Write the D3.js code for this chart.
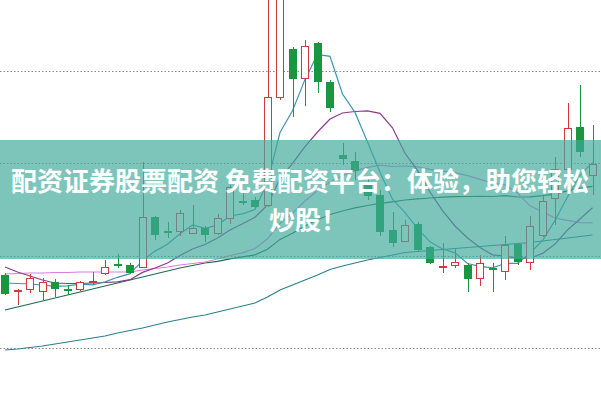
<!DOCTYPE html>
<html><head><meta charset="utf-8">
<script src="https://cdn.jsdelivr.net/npm/d3@7"></script>
<style>html,body{margin:0;padding:0;background:#fff;overflow:hidden}</style>
</head><body><svg id="c" width="601" height="400"></svg>
<script>
// ---- data ----
const dates = ["02-01","02-02","02-03","02-06","02-07","02-08","02-09","02-10","02-13","02-14","02-15","02-16","02-17","02-20","02-21","02-22","02-23","02-24","02-27","02-28",
"03-01","03-02","03-03","03-06","03-07","03-08","03-09","03-10","03-13","03-14","03-15","03-16","03-17","03-20","03-21","03-22","03-23","03-24","03-27","03-28","03-29","03-30","03-31",
"04-03","04-04","04-06","04-07","04-10"];
const open  = [5.25,5.085,5.11,5.09,5.18,5.105,5.11,5.175,5.27,5.355,5.35,5.33,5.83,5.685,5.69,5.67,5.72,5.67,5.82,5.985,6.00,5.95,7.03,7.51,7.22,7.57,7.18,6.45,6.39,6.17,6.05,5.70,5.59,5.76,5.53,5.325,5.35,5.35,5.22,5.315,5.29,5.56,5.38,5.65,6.02,6.31,6.73,6.25];
const high  = [5.27,5.11,5.26,5.22,5.21,5.15,5.19,5.28,5.40,5.46,5.37,6.38,5.84,5.78,5.90,5.95,5.74,5.86,6.15,6.07,6.03,8.20,8.40,7.53,7.60,7.58,7.20,6.57,6.48,6.22,6.10,5.88,5.80,5.78,5.54,5.57,5.52,5.37,5.45,5.37,5.64,5.57,5.84,6.05,6.43,6.97,7.15,6.75];
const low   = [5.05,4.95,5.07,5.00,5.03,5.05,5.09,5.15,5.25,5.32,5.26,5.32,5.60,5.62,5.64,5.66,5.58,5.65,5.76,5.95,5.92,5.93,7.00,6.83,6.94,7.07,6.88,6.35,6.20,6.00,5.64,5.53,5.58,5.49,5.36,5.27,5.32,5.08,5.14,5.08,5.20,5.35,5.30,5.63,5.75,6.20,6.43,6.05];
const close = [5.07,5.095,5.22,5.18,5.12,5.095,5.18,5.185,5.33,5.345,5.28,5.83,5.66,5.675,5.87,5.72,5.66,5.82,6.13,5.975,5.94,7.03,8.30,7.22,7.54,7.19,6.93,6.42,6.30,6.05,5.69,5.58,5.75,5.51,5.38,5.335,5.38,5.22,5.37,5.305,5.55,5.39,5.74,5.99,6.31,6.72,6.49,6.36];

const ma5  = [5.17,5.165,5.16,5.15,5.137,5.142,5.159,5.152,5.182,5.227,5.264,5.394,5.489,5.558,5.663,5.751,5.717,5.749,5.84,5.861,5.905,6.179,6.675,6.893,7.206,7.456,7.436,7.06,6.876,6.58,6.278,6.008,5.874,5.716,5.582,5.511,5.471,5.365,5.337,5.322,5.365,5.367,5.47,5.595,5.796,6.03,6.25,6.374];
const ma10 = [5.33,5.28,5.24,5.20,5.17,5.165,5.165,5.17,5.175,5.182,5.203,5.276,5.32,5.37,5.445,5.51,5.555,5.62,5.70,5.762,5.828,5.95,6.212,6.366,6.533,6.68,6.81,6.87,6.885,6.892,6.867,6.722,6.467,6.296,6.08,5.894,5.74,5.62,5.526,5.452,5.438,5.419,5.418,5.466,5.559,5.70,5.81,5.922];
const ma20 = [5.26,5.265,5.27,5.27,5.275,5.275,5.28,5.28,5.28,5.28,5.28,5.30,5.315,5.33,5.35,5.365,5.38,5.41,5.445,5.472,5.515,5.612,5.766,5.868,5.99,6.094,6.181,6.243,6.292,6.327,6.348,6.335,6.34,6.331,6.307,6.288,6.274,6.244,6.206,6.172,6.153,6.07,5.942,5.881,5.82,5.796,5.774,5.771];
const ma30 = [4.90,4.93,4.96,4.99,5.02,5.05,5.08,5.11,5.14,5.17,5.20,5.23,5.26,5.29,5.32,5.345,5.37,5.386,5.411,5.432,5.452,5.508,5.606,5.668,5.741,5.802,5.855,5.89,5.922,5.945,5.966,5.982,6.00,6.011,6.02,6.028,6.034,6.035,6.037,6.035,6.044,6.03,6.032,6.043,6.058,6.091,6.119,6.137];
const ma60 = [4.50,4.51,4.525,4.54,4.56,4.58,4.60,4.62,4.64,4.67,4.695,4.72,4.75,4.78,4.805,4.83,4.85,4.88,4.91,4.94,4.97,5.03,5.10,5.15,5.20,5.25,5.305,5.34,5.37,5.40,5.425,5.45,5.475,5.485,5.495,5.505,5.515,5.525,5.535,5.545,5.555,5.565,5.575,5.59,5.605,5.62,5.635,5.65];

const gridPrices = [7.29, 6.367, 5.443, 4.52];
const bannerLines = ["配资证券股票配资 免费配资平台：体验，助您轻松", "炒股！"];

// ---- layout ----
const W = 601, H = 400;
const svg = d3.select("#c");
const x = d3.scaleBand().domain(dates).range([-1.25, 598.75]).paddingInner(0.36).paddingOuter(0.18);
const y = d3.scaleLinear().domain([4, 8]).range([400, 0]);
const cx = d => x(d) + x.bandwidth() / 2;

const RED = "#d2393f", GREEN = "#1a9641";

// grid
svg.append("g").selectAll("line").data(gridPrices).join("line")
  .attr("x1", 0).attr("x2", W)
  .attr("y1", d => Math.round(y(d)) + 0.5).attr("y2", d => Math.round(y(d)) + 0.5)
  .attr("stroke", "#8a8a8a").attr("stroke-width", 1).attr("stroke-dasharray", "1.5,2");

// moving averages
const series = [
  {v: ma60, c: "#2b8090"},
  {v: ma30, c: "#1f6b4f"},
  {v: ma20, c: "#df7bdf"},
  {v: ma10, c: "#8b3a8f"},
  {v: ma5,  c: "#3f95b2"}
];
const line = d3.line().x((d, i) => cx(dates[i])).y(d => y(d)).curve(d3.curveLinear);
svg.append("g").selectAll("path").data(series).join("path")
  .attr("d", s => line(s.v)).attr("fill", "none")
  .attr("stroke", s => s.c).attr("stroke-width", 1.2);

// candles
const candles = dates.map((d, i) => ({d, o: open[i], h: high[i], l: low[i], c: close[i]}));
const g = svg.append("g").attr("shape-rendering", "crispEdges");
const bw = x.bandwidth();
g.selectAll("line").data(candles).join("line")
  .attr("x1", k => Math.round(cx(k.d)) + 0.5).attr("x2", k => Math.round(cx(k.d)) + 0.5)
  .attr("y1", k => y(k.h)).attr("y2", k => y(k.l))
  .attr("stroke", k => k.c >= k.o ? RED : GREEN).attr("stroke-width", 1);
g.selectAll("rect").data(candles).join("rect")
  .attr("x", k => Math.round(cx(k.d) - bw / 2) + 0.5)
  .attr("y", k => y(Math.max(k.o, k.c)))
  .attr("width", Math.round(bw) - 1)
  .attr("height", k => Math.max(1, Math.abs(y(k.o) - y(k.c))))
  .attr("fill", k => k.c >= k.o ? "#fff" : GREEN)
  .attr("stroke", k => k.c >= k.o ? RED : GREEN).attr("stroke-width", 1);

// banner overlay
svg.append("rect").attr("x", 0).attr("y", 140).attr("width", W).attr("height", 119)
  .attr("fill", "rgba(64,170,155,0.68)");
const tx = svg.append("g").attr("fill", "#fff")
  .attr("font-family", "'Noto Sans CJK SC','Noto Sans',sans-serif")
  .attr("font-weight", 700).attr("font-size", 26);
tx.append("text").attr("x", 11).attr("y", 190.5).text(bannerLines[0]);
tx.append("text").attr("x", 269).attr("y", 230).text(bannerLines[1]);
</script>
</body></html>
